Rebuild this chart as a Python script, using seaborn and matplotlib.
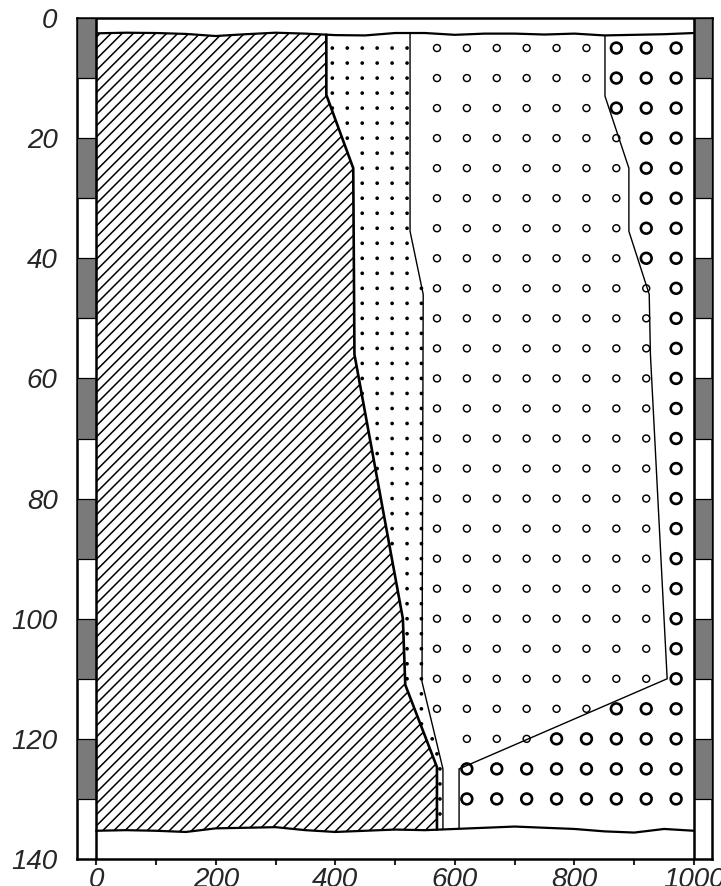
import matplotlib
matplotlib.use("Agg")
import matplotlib.pyplot as plt
from matplotlib.patches import Polygon, Rectangle
import numpy as np
import pandas as pd
import seaborn as sns

# wavy upper and lower edges of the section
wave_x = [0, 50, 100, 150, 200, 250, 300, 350, 400, 450, 500,
          550, 600, 650, 700, 750, 800, 850, 900, 950, 1000]
top_wave_y = [2.55, 2.45, 2.5, 2.65, 3.0, 2.7, 2.45, 2.6, 2.85, 2.9, 2.5,
              2.5, 2.8, 2.6, 2.6, 2.75, 2.6, 2.9, 2.8, 2.7, 2.5]
bottom_wave_y = [135.3, 135.2, 135.3, 135.5, 134.9, 134.8, 134.7, 135.2, 135.5, 135.3, 135.1,
                 135.2, 135.0, 134.8, 134.6, 134.8, 135.0, 135.4, 135.6, 135.0, 135.3]

# boundaries (inner vertices, top to bottom)
hatch_edge_x = [385, 430, 432, 513, 517, 570]
hatch_edge_y = [12.8, 25, 56, 100, 111, 124.7]
dot_edge_x = [525, 547, 545, 580]
dot_edge_y = [35.5, 46, 110.5, 125]
big_edge_x = [851, 891, 891, 925, 927, 955, 607]
big_edge_y = [13, 25, 35.5, 46, 56, 110, 125]

# circle grid
circle_x = [570, 620, 670, 720, 770, 820, 870, 920, 970]
circle_y = [5, 10, 15, 20, 25, 30, 35, 40, 45, 50, 55, 60, 65,
            70, 75, 80, 85, 90, 95, 100, 105, 110, 115, 120, 125, 130]

# dot grid
dot_x = [395, 420, 445, 470, 495, 520, 544]
dot_y = [5, 7.5, 10, 12.5, 15, 17.5, 20, 22.5, 25, 27.5, 30, 32.5, 35, 37.5,
         40, 42.5, 45, 47.5, 50, 52.5, 55, 57.5, 60, 62.5, 65, 67.5, 70, 72.5,
         75, 77.5, 80, 82.5, 85, 87.5, 90, 92.5, 95, 97.5, 100, 102.5, 105,
         107.5, 110, 112.5, 115, 117.5]
strip_dot_x = [562, 570, 575, 575, 575, 575]
strip_dot_y = [120, 122.5, 125, 127.5, 130, 132.5]

# grey blocks on the side scales
block_top = [0, 20, 40, 60, 80, 100, 120]

x_ticks = [0, 200, 400, 600, 800, 1000]
x_minor = [100, 300, 500, 700, 900]
y_ticks = [0, 20, 40, 60, 80, 100, 120, 140]

sns.set_style("white")
plt.rcParams['font.family'] = ['Liberation Sans', 'DejaVu Sans']
plt.rcParams['hatch.linewidth'] = 1.1


def top_at(x):
    return np.interp(x, wave_x, top_wave_y)


def bottom_at(x):
    return np.interp(x, wave_x, bottom_wave_y)


def full_edge(ex, ey):
    xs = [ex[0]] + list(ex) + [ex[-1]]
    ys = [top_at(ex[0])] + list(ey) + [bottom_at(ex[-1])]
    return np.array(xs, float), np.array(ys, float)


hx, hy = full_edge(hatch_edge_x, hatch_edge_y)
dx, dy = full_edge(dot_edge_x, dot_edge_y)
bx, by = full_edge(big_edge_x, big_edge_y)

fig = plt.figure(figsize=(7.21, 8.86), dpi=100)
ax = fig.add_axes([77 / 721, 1 - 859 / 886, (712 - 77) / 721, (859 - 18) / 886])

# hatched region
poly = [(0, top_wave_y[0])]
poly += [(x, y) for x, y in zip(wave_x, top_wave_y) if 0 < x < hx[0]]
poly += list(zip(hx, hy))
poly += [(x, y) for x, y in zip(wave_x[::-1], bottom_wave_y[::-1]) if x < hx[-1]]
ax.add_patch(Polygon(poly, closed=True, facecolor='white', edgecolor='black',
                     linewidth=0, hatch='///', zorder=1))

# points: dots and circles
rows = []
for y in dot_y:
    for x in dot_x:
        if np.interp(y, hy, hx) + 1 < x < np.interp(y, dy, dx) + 3:
            rows.append((x, y))
rows += list(zip(strip_dot_x, strip_dot_y))
dots = pd.DataFrame(rows, columns=['x', 'y'])

small, big = [], []
for y in circle_y:
    for x in circle_x:
        if x <= np.interp(y, dy, dx) + 4:
            continue
        if x > np.interp(y, by, bx):
            big.append((x, y))
        else:
            small.append((x, y))
small = pd.DataFrame(small, columns=['x', 'y'])
big = pd.DataFrame(big, columns=['x', 'y'])

sns.scatterplot(data=dots, x='x', y='y', ax=ax, s=7, color='black',
                edgecolor='none', zorder=2)
sns.scatterplot(data=small, x='x', y='y', ax=ax, s=25, marker='o',
                facecolor='none', edgecolor='black', linewidth=1.05, zorder=2)
sns.scatterplot(data=big, x='x', y='y', ax=ax, s=60, marker='o',
                facecolor='none', edgecolor='black', linewidth=1.9, zorder=2)

# boundary lines
ax.plot(hx, hy, color='black', lw=1.9, zorder=3)
ax.plot(dx, dy, color='black', lw=1.0, zorder=3)
ax.plot(bx, by, color='black', lw=1.0, zorder=3)
ax.plot(wave_x, top_wave_y, color='black', lw=1.6, zorder=3)
ax.plot(wave_x, bottom_wave_y, color='black', lw=1.6, zorder=3)

# side scales
for t in block_top:
    ax.add_patch(Rectangle((-32, t), 32, 10, facecolor='#7a7a7a',
                           edgecolor='black', lw=0.9, zorder=3))
    ax.add_patch(Rectangle((1000, t), 30, 10, facecolor='#7a7a7a',
                           edgecolor='black', lw=0.9, zorder=3))
ax.axvline(0, color='black', lw=1.8, zorder=4)
ax.axvline(1000, color='black', lw=1.8, zorder=4)

ax.set_xlim(-32, 1030)
ax.set_ylim(140, 0)
ax.set_xlabel('')
ax.set_ylabel('')
ax.set_xticks(x_ticks)
ax.set_xticks(x_minor, minor=True)
ax.set_yticks(y_ticks)
ax.tick_params(axis='x', which='both', direction='out', length=4, width=1.5,
               pad=2, labelsize=20, bottom=True)
ax.tick_params(axis='y', length=0, pad=14, labelsize=20)
for lab in ax.get_xticklabels() + ax.get_yticklabels():
    lab.set_fontstyle('italic')
for sp in ax.spines.values():
    sp.set_visible(True)
    sp.set_linewidth(1.8)
    sp.set_color('black')
ax.grid(False)

fig.savefig('out.png', dpi=100)
